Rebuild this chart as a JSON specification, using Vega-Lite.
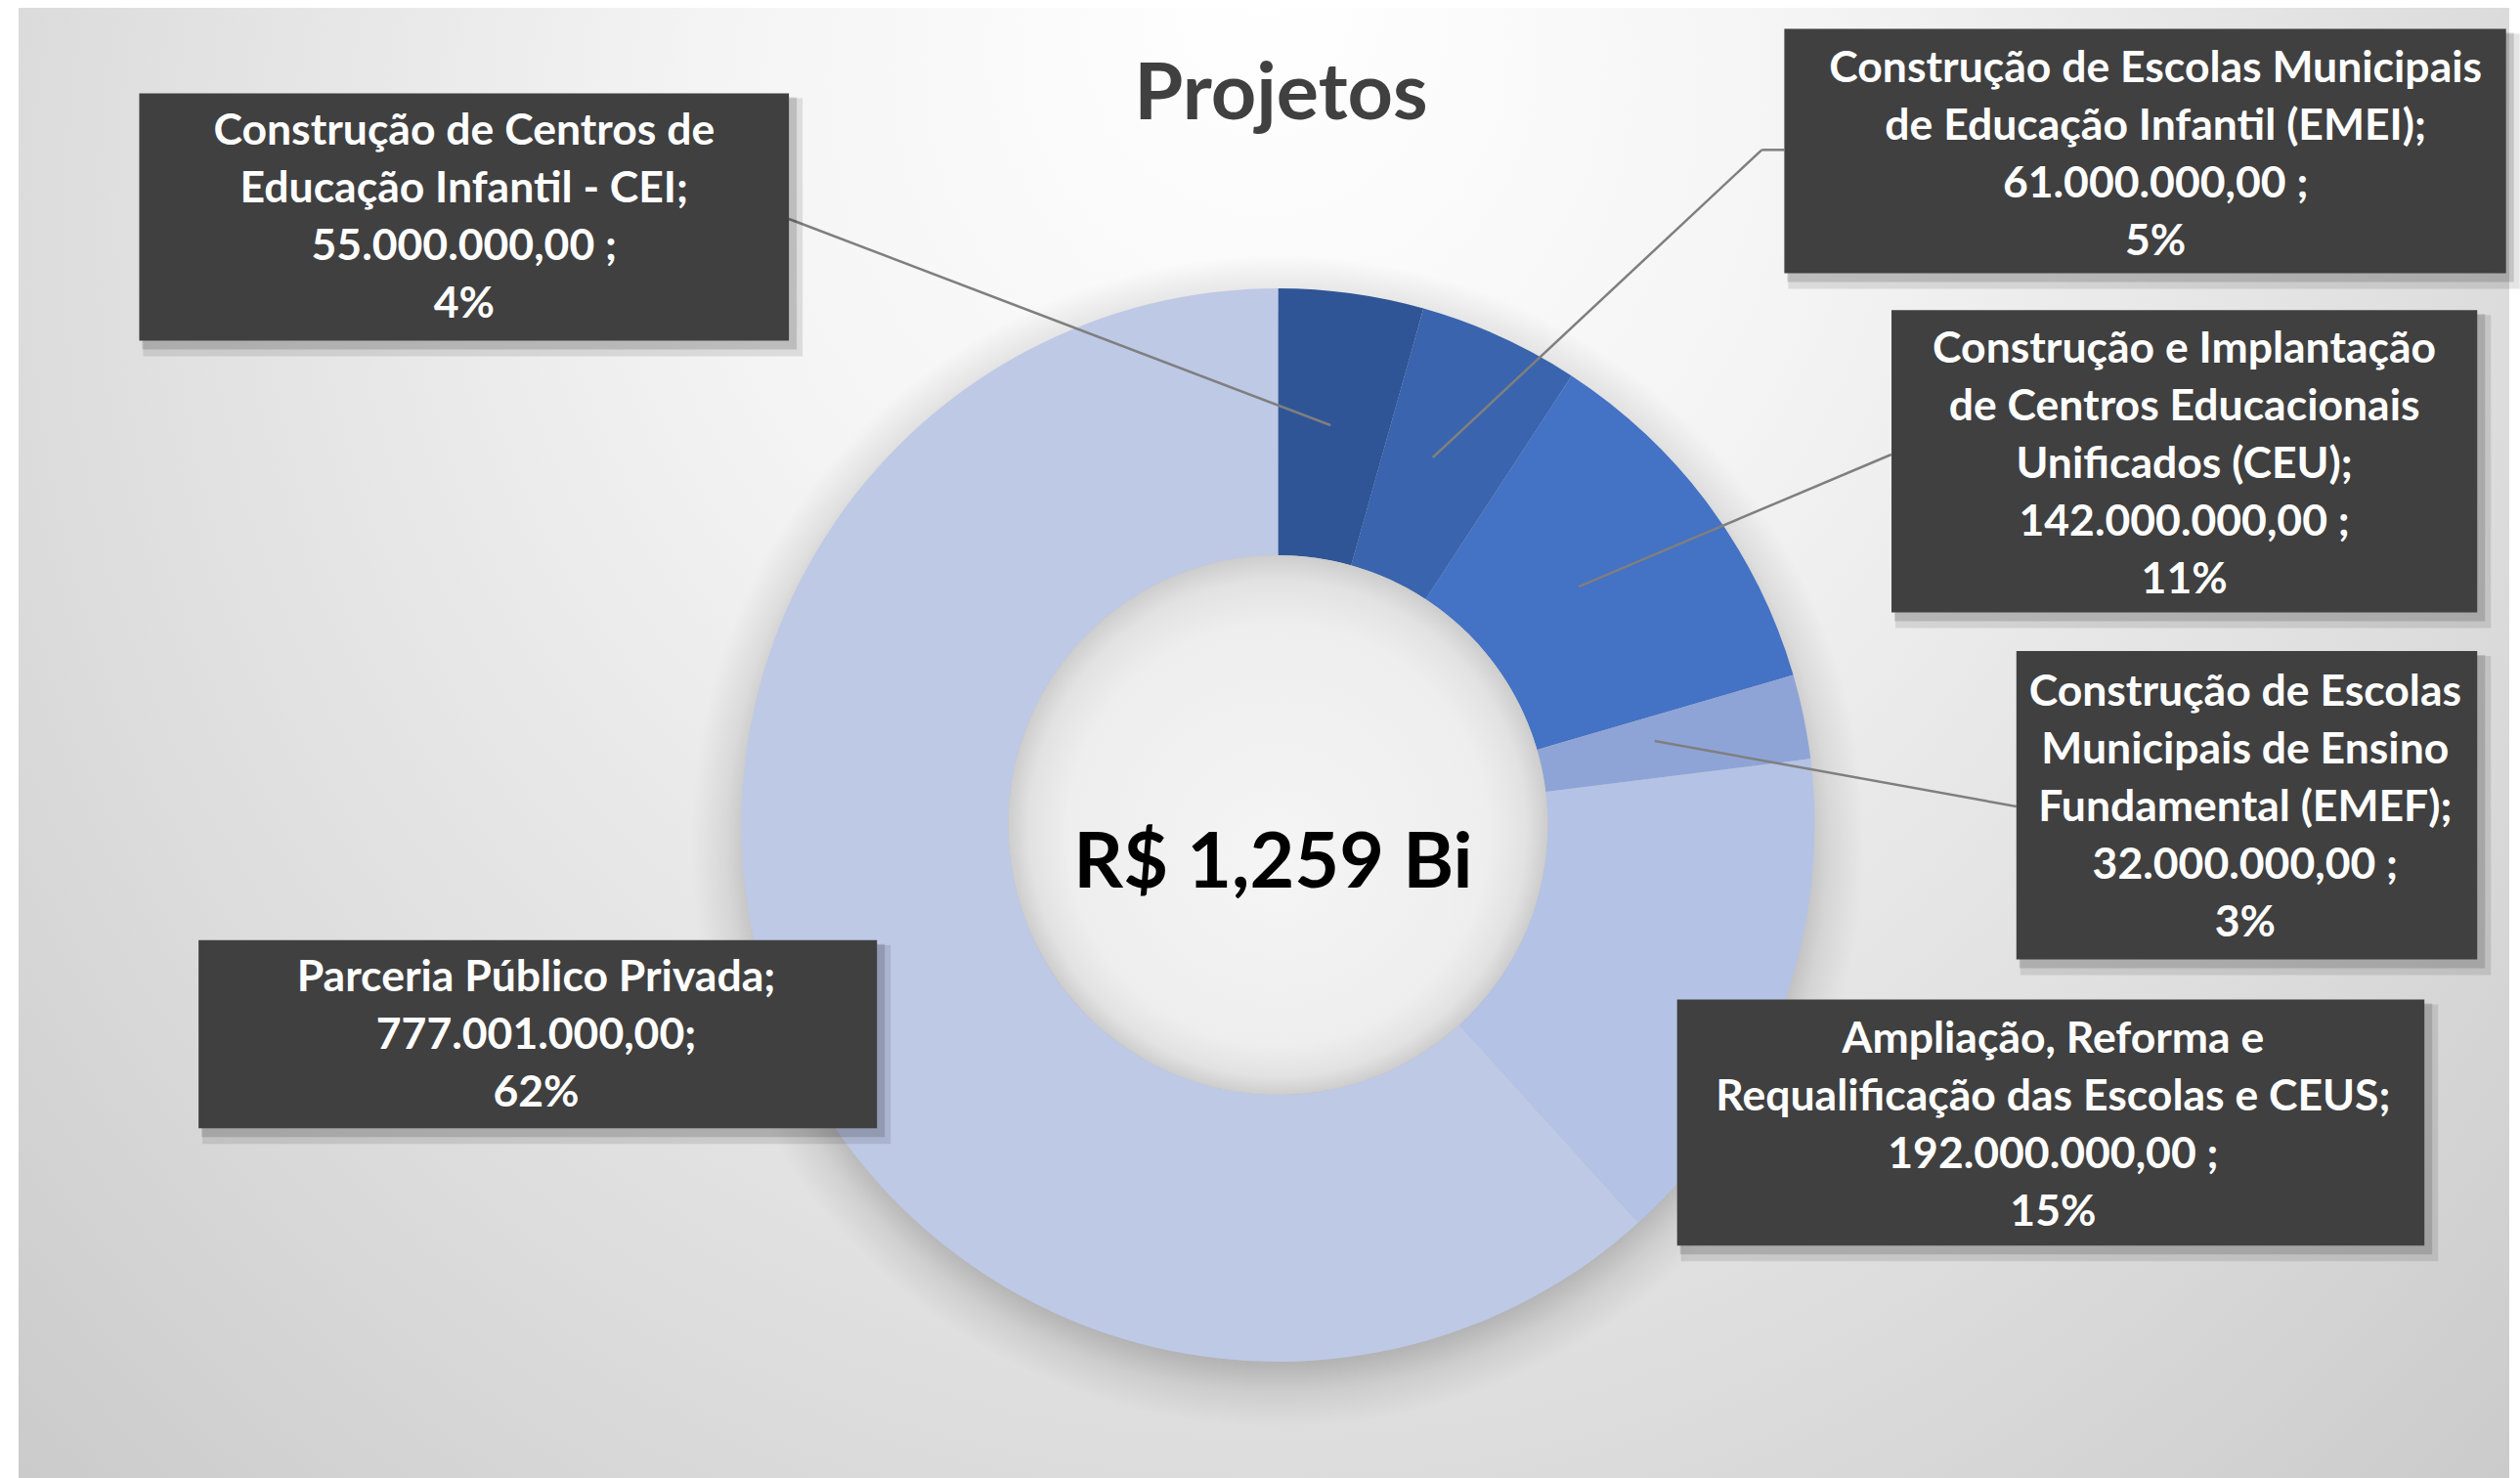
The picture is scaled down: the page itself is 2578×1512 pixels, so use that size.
{
  "$schema": "https://vega.github.io/schema/vega-lite/v6.json",
  "width": 2578,
  "height": 1512,
  "autosize": {"type": "fit", "contains": "padding"},
  "padding": {"left": 19, "top": 8, "right": 0, "bottom": 0},
  "background": "#ffffff",
  "view": {
    "stroke": null,
    "fill": {
      "gradient": "radial",
      "x1": 0.5, "y1": 0.2, "r1": 0,
      "x2": 0.5, "y2": 0.35, "r2": 0.75,
      "stops": [
        {"offset": 0, "color": "#ffffff"},
        {"offset": 0.3, "color": "#f4f4f4"},
        {"offset": 0.65, "color": "#dddddd"},
        {"offset": 1, "color": "#c4c4c4"}
      ]
    }
  },
  "config": {"font": "Lato"},
  "datasets": {
    "projetos": [
      {"projeto": "Construção de Centros de Educação Infantil - CEI", "valor": 55000000, "ordem": 1},
      {"projeto": "Construção de Escolas Municipais de Educação Infantil (EMEI)", "valor": 61000000, "ordem": 2},
      {"projeto": "Construção e Implantação de Centros Educacionais Unificados (CEU)", "valor": 142000000, "ordem": 3},
      {"projeto": "Construção de Escolas Municipais de Ensino Fundamental (EMEF)", "valor": 32000000, "ordem": 4},
      {"projeto": "Ampliação, Reforma e Requalificação das Escolas e CEUS", "valor": 192000000, "ordem": 5},
      {"projeto": "Parceria Público Privada", "valor": 777001000, "ordem": 6}
    ],
    "rotulos": [
      {"projeto": "CEI", "rotulo": "Construção de Centros de\nEducação Infantil - CEI;\n55.000.000,00 ;\n4%", "x1": -2.1273, "x2": -0.9136, "y1": 1.3611, "y2": 0.9009, "cx": -1.5204, "cy": 1.2895},
      {"projeto": "EMEI", "rotulo": "Construção de Escolas Municipais\nde Educação Infantil (EMEI);\n61.000.000,00 ;\n5%", "x1": 0.9458, "x2": 2.294, "y1": 1.4807, "y2": 1.0264, "cx": 1.6393, "cy": 1.406},
      {"projeto": "CEU", "rotulo": "Construção e Implantação\nde Centros Educacionais\nUnificados (CEU);\n142.000.000,00 ;\n11%", "x1": 1.146, "x2": 2.2402, "y1": 0.9576, "y2": 0.3956, "cx": 1.6931, "cy": 0.8829},
      {"projeto": "EMEF", "rotulo": "Construção de Escolas\nMunicipais de Ensino\nFundamental (EMEF);\n32.000.000,00 ;\n3%", "x1": 1.3793, "x2": 2.2402, "y1": 0.3238, "y2": -0.25, "cx": 1.8067, "cy": 0.2462},
      {"projeto": "Ampliação", "rotulo": "Ampliação, Reforma e\nRequalificação das Escolas e CEUS;\n192.000.000,00 ;\n15%", "x1": 0.7455, "x2": 2.1415, "y1": -0.3247, "y2": -0.7822, "cx": 1.448, "cy": -0.3995},
      {"projeto": "PPP", "rotulo": "Parceria Público Privada;\n777.001.000,00;\n62%", "x1": -2.0165, "x2": -0.7491, "y1": -0.2142, "y2": -0.564, "cx": -1.3858, "cy": -0.286}
    ],
    "linhas": [
      {"projeto": "CEI", "x": -0.9136, "y": 1.1273, "x2": 0.0982, "y2": 0.7436},
      {"projeto": "EMEI", "x": 0.9455, "y": 1.2558, "x2": 0.9036, "y2": 1.2558},
      {"projeto": "EMEI", "x": 0.9036, "y": 1.2558, "x2": 0.2891, "y2": 0.6836},
      {"projeto": "CEU", "x": 1.1455, "y": 0.6891, "x2": 0.5618, "y2": 0.4436},
      {"projeto": "EMEF", "x": 1.3793, "y": 0.0345, "x2": 0.7036, "y2": 0.1564}
    ]
  },
  "layer": [
    {
      "data": {"values": [{"forma": "sombra"}]},
      "mark": {
        "type": "arc", "theta": 0, "theta2": 6.2832, "radius": 600,
        "fill": {
          "gradient": "radial", "x1": 0.5, "y1": 0.5, "r1": 0, "x2": 0.5, "y2": 0.5, "r2": 0.5,
          "stops": [
            {"offset": 0, "color": "rgba(0,0,0,0.22)"},
            {"offset": 0.88, "color": "rgba(0,0,0,0.22)"},
            {"offset": 0.94, "color": "rgba(0,0,0,0.08)"},
            {"offset": 1, "color": "rgba(0,0,0,0)"}
          ]
        }
      },
      "encoding": {
        "x": {"datum": 0, "type": "quantitative", "scale": {"domain": [-2.3527, 2.3], "nice": false, "zero": false}, "axis": null},
        "y": {"datum": -0.03, "type": "quantitative", "scale": {"domain": [-1.2145, 1.52], "nice": false, "zero": false}, "axis": null}
      }
    },
    {
      "data": {"name": "projetos"},
      "mark": {"type": "arc", "radius": 549, "radius2": 276, "stroke": null},
      "encoding": {
        "theta": {"field": "valor", "type": "quantitative", "stack": true},
        "order": {"field": "ordem", "type": "quantitative"},
        "color": {
          "field": "projeto", "type": "nominal", "legend": null,
          "scale": {
            "domain": [
              "Construção de Centros de Educação Infantil - CEI",
              "Construção de Escolas Municipais de Educação Infantil (EMEI)",
              "Construção e Implantação de Centros Educacionais Unificados (CEU)",
              "Construção de Escolas Municipais de Ensino Fundamental (EMEF)",
              "Ampliação, Reforma e Requalificação das Escolas e CEUS",
              "Parceria Público Privada"
            ],
            "range": ["#2F5597", "#3A64AD", "#4472C4", "#8FA4D6", "#B4C2E5", "#BEC9E6"]
          }
        },
        "x": {"datum": 0, "type": "quantitative", "scale": {"domain": [-2.3527, 2.3], "nice": false, "zero": false}, "axis": null},
        "y": {"datum": 0, "type": "quantitative", "scale": {"domain": [-1.2145, 1.52], "nice": false, "zero": false}, "axis": null}
      }
    },
    {
      "data": {"values": [{"forma": "centro"}]},
      "mark": {
        "type": "arc", "theta": 0, "theta2": 6.2832, "radius": 276,
        "fill": {
          "gradient": "radial", "x1": 0.5, "y1": 0.58, "r1": 0, "x2": 0.5, "y2": 0.5, "r2": 0.5,
          "stops": [
            {"offset": 0, "color": "#f5f5f5"},
            {"offset": 0.78, "color": "#eeeeee"},
            {"offset": 0.92, "color": "#e2e2e2"},
            {"offset": 1, "color": "#cdcdcd"}
          ]
        }
      },
      "encoding": {
        "x": {"datum": 0, "type": "quantitative", "scale": {"domain": [-2.3527, 2.3], "nice": false, "zero": false}, "axis": null},
        "y": {"datum": 0, "type": "quantitative", "scale": {"domain": [-1.2145, 1.52], "nice": false, "zero": false}, "axis": null}
      }
    },
    {
      "data": {"name": "linhas"},
      "mark": {"type": "rule", "color": "#7f7f7f", "strokeWidth": 2.5},
      "encoding": {
        "x": {"field": "x", "type": "quantitative", "scale": {"domain": [-2.3527, 2.3], "nice": false, "zero": false}, "axis": null},
        "y": {"field": "y", "type": "quantitative", "scale": {"domain": [-1.2145, 1.52], "nice": false, "zero": false}, "axis": null},
        "x2": {"field": "x2"},
        "y2": {"field": "y2"}
      }
    },
    {
      "data": {"name": "rotulos"},
      "mark": {"type": "rect", "fill": "#000000", "opacity": 0.1, "xOffset": 4, "x2Offset": 14, "yOffset": 5, "y2Offset": 16},
      "encoding": {
        "x": {"field": "x1", "type": "quantitative", "scale": {"domain": [-2.3527, 2.3], "nice": false, "zero": false}, "axis": null},
        "x2": {"field": "x2"},
        "y": {"field": "y1", "type": "quantitative", "scale": {"domain": [-1.2145, 1.52], "nice": false, "zero": false}, "axis": null},
        "y2": {"field": "y2"}
      }
    },
    {
      "data": {"name": "rotulos"},
      "mark": {"type": "rect", "fill": "#000000", "opacity": 0.14, "xOffset": 3, "x2Offset": 8, "yOffset": 4, "y2Offset": 9},
      "encoding": {
        "x": {"field": "x1", "type": "quantitative", "scale": {"domain": [-2.3527, 2.3], "nice": false, "zero": false}, "axis": null},
        "x2": {"field": "x2"},
        "y": {"field": "y1", "type": "quantitative", "scale": {"domain": [-1.2145, 1.52], "nice": false, "zero": false}, "axis": null},
        "y2": {"field": "y2"}
      }
    },
    {
      "data": {"name": "rotulos"},
      "mark": {"type": "rect", "fill": "#404040"},
      "encoding": {
        "x": {"field": "x1", "type": "quantitative", "scale": {"domain": [-2.3527, 2.3], "nice": false, "zero": false}, "axis": null},
        "x2": {"field": "x2"},
        "y": {"field": "y1", "type": "quantitative", "scale": {"domain": [-1.2145, 1.52], "nice": false, "zero": false}, "axis": null},
        "y2": {"field": "y2"}
      }
    },
    {
      "data": {"name": "rotulos"},
      "mark": {"type": "text", "color": "#ffffff", "fontWeight": "bold", "fontSize": 44.5, "lineHeight": 59, "lineBreak": "\n", "align": "center", "baseline": "middle"},
      "encoding": {
        "x": {"field": "cx", "type": "quantitative", "scale": {"domain": [-2.3527, 2.3], "nice": false, "zero": false}, "axis": null},
        "y": {"field": "cy", "type": "quantitative", "scale": {"domain": [-1.2145, 1.52], "nice": false, "zero": false}, "axis": null},
        "text": {"field": "rotulo"}
      }
    },
    {
      "data": {"values": [{"total": "R$ 1,259 Bi"}]},
      "mark": {"type": "text", "color": "#000000", "fontWeight": "bold", "fontSize": 79, "align": "center", "baseline": "alphabetic"},
      "encoding": {
        "x": {"datum": -0.0091, "type": "quantitative", "scale": {"domain": [-2.3527, 2.3], "nice": false, "zero": false}, "axis": null},
        "y": {"datum": -0.1169, "type": "quantitative", "scale": {"domain": [-1.2145, 1.52], "nice": false, "zero": false}, "axis": null},
        "text": {"field": "total"}
      }
    },
    {
      "data": {"values": [{"titulo": "Projetos"}]},
      "mark": {"type": "text", "color": "#404040", "fontWeight": "bold", "fontSize": 81, "align": "center", "baseline": "alphabetic"},
      "encoding": {
        "x": {"datum": 0.0055, "type": "quantitative", "scale": {"domain": [-2.3527, 2.3], "nice": false, "zero": false}, "axis": null},
        "y": {"datum": 1.3133, "type": "quantitative", "scale": {"domain": [-1.2145, 1.52], "nice": false, "zero": false}, "axis": null},
        "text": {"field": "titulo"}
      }
    }
  ]
}
